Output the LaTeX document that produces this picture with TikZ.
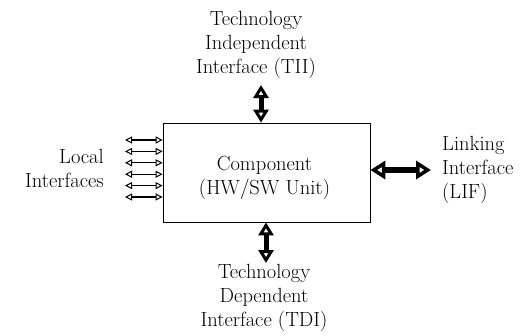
\documentclass[tikz,border=0pt]{standalone}
\usetikzlibrary{arrows.meta,calc}
\begin{document}
\begin{tikzpicture}[x=1pt,y=-1pt,
  lbl/.style={font=\fontsize{20.5}{24}\selectfont, inner sep=0pt},
  vtip/.tip={Triangle[open,length=13pt,width=15pt,line width=3pt]},
  htip/.tip={Triangle[open,length=15pt,width=18pt,line width=3.5pt]},
  stip/.tip={Triangle[open,length=7pt,width=7pt,line width=1pt]},
  varrow/.style={line width=5pt, vtip-vtip},
  harrow/.style={line width=6pt, htip-htip},
  sarrow/.style={line width=1.2pt, stip-stip},
  box/.style={draw, line width=0.8pt, minimum width=207pt, minimum height=99pt}
]
\useasboundingbox (0,0) rectangle (529,335);

\node[box] (comp) at (266.5,172.5) {};
\node[lbl, align=center] (complbl) at ($(comp.center)+(-2,5)$) {Component\\(HW/SW Unit)};

\node[lbl, align=center, anchor=north] (tii) at (256,11) {Technology\\Independent\\Interface (TII)};
\node[lbl, align=center, anchor=north] (tdi) at (264,264) {Technology\\Dependent\\Interface (TDI)};
\node[lbl, align=right, anchor=north east] (local) at (104,149) {Local\\Interfaces};
\node[lbl, align=left, anchor=north west] (lif) at (442,136) {Linking\\Interface\\(LIF)};

\coordinate (tiiend) at (261,85);
\coordinate (tdiend) at (266,263);
\coordinate (lifend) at (431,170);

\draw[varrow] (tiiend) -- (tiiend |- comp.north);
\draw[varrow] (tdiend) -- (tdiend |- comp.south);
\draw[harrow] (lifend) -- (lifend -| comp.east);

\foreach \i/\y in {1/140,2/151.4,3/162.8,4/174.2,5/185.6,6/197}{
  \coordinate (l\i) at (125,\y);
  \draw[sarrow] (l\i) -- (l\i -| comp.west);
}
\end{tikzpicture}
\end{document}
